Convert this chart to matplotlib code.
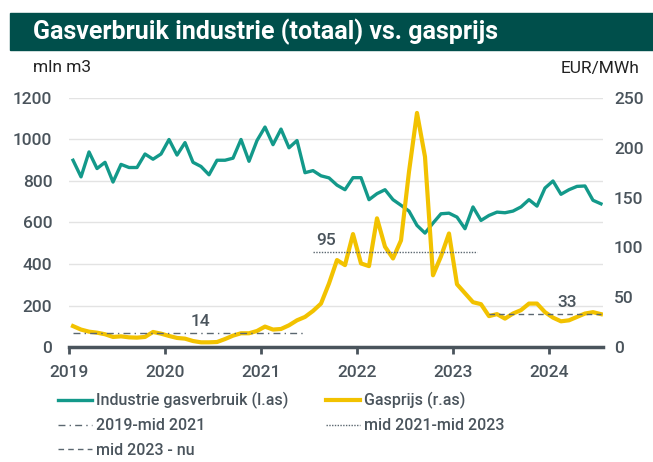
import matplotlib.pyplot as plt
import matplotlib.patches as patches

plt.rcParams['font.family'] = ['Roboto', 'DejaVu Sans']

# monthly data, Jan 2019 - Jul 2024
start_year = 2019
verbruik = [900, 820, 940, 860, 890, 795, 880, 865, 865, 930, 905, 930,
            1000, 925, 985, 890, 870, 830, 900, 900, 910, 1000, 895, 995,
            1060, 975, 1050, 960, 995, 840, 850, 825, 815, 780, 758, 816,
            816, 710, 739, 758, 710, 683, 655, 586, 549, 597, 642, 645,
            626, 570, 675, 610, 634, 650, 647, 655, 675, 710, 679, 766,
            800, 736, 758, 774, 776, 707, 690]
gasprijs = [21, 17.5, 15.4, 14.4, 12.8, 10.1, 10.7, 9.7, 9.4, 10.1, 15.1, 13.4,
            11.1, 9.1, 8.4, 6, 4.7, 4.7, 5, 8, 11.4, 13.8, 13.8, 16.1,
            20.5, 17.5, 18.1, 21.8, 26.8, 30.2, 36.2, 43.6, 63.8, 87.3, 82.2, 113.4,
            83.9, 81.2, 129.2, 100.7, 88.9, 107, 176, 235, 191, 72, 91, 114,
            63, 54, 45, 43, 31, 33, 28.5, 33.6, 37, 43.6, 43.6, 35,
            29.5, 25.8, 26.8, 30.2, 33.6, 35, 33]

# period averages (value, first month index, last month index)
gem_labels = ['2019-mid 2021', 'mid 2021-mid 2023', 'mid 2023 - nu']
gem_values = [14, 95, 33]
gem_start = [0, 30, 52]
gem_end = [29, 50.5, 66]

months = [start_year + (i + 0.5) / 12 for i in range(len(verbruik))]

green = '#13998a'
yellow = '#f2c200'
grey = '#5b6770'
dark = '#004f4b'
txt = '#4a545c'

fig = plt.figure(figsize=(6.53, 4.62), dpi=100)
ax = fig.add_axes([0.1057, 0.2489, 0.8177, 0.539])
ax2 = ax.twinx()

# title band
fig.patches.append(patches.Rectangle((10 / 653, 1 - 50 / 462), 1, 37 / 462,
                                     transform=fig.transFigure, color=dark, zorder=0))
fig.text(33 / 653, 1 - 32 / 462, 'Gasverbruik industrie (totaal) vs. gasprijs',
         color='white', fontsize=18, fontweight='bold', va='center')
fig.text(33 / 653, 1 - 68 / 462, 'mln m3', fontsize=12.5, color='#222222', va='center')
fig.text(640 / 653, 1 - 68 / 462, 'EUR/MWh', fontsize=12.5, color='#222222', va='center', ha='right')

l1, = ax.plot(months, verbruik, color=green, lw=2.4, label='Industrie gasverbruik (l.as)')
l2, = ax2.plot(months, gasprijs, color=yellow, lw=3, label='Gasprijs (r.as)')

styles = [(0, (5, 3, 1, 3)), (0, (1, 1)), (0, (4, 3))]
handles = []
for v, s, e, lab, st in zip(gem_values, gem_start, gem_end, gem_labels, styles):
    xs = [start_year + (s + 0.5) / 12, start_year + (e + 0.5) / 12]
    h, = ax2.plot(xs, [v, v], color=grey, lw=1, linestyle=st, label=lab)
    handles.append(h)
    ax2.text(xs[0] + (xs[1] - xs[0]) * (0.55 if v == 14 else 0.08 if v == 95 else 0.7), v + 7,
             str(v), color=txt, fontsize=12.5, fontweight='medium', ha='center')

ax.set_xlim(2019, 2024.5625)
ax.set_ylim(0, 1200)
ax2.set_ylim(0, 250)
ax.set_yticks(range(0, 1201, 200))
ax2.set_yticks(range(0, 251, 50))
ax.set_xticks(range(2019, 2025))

ax.grid(axis='y', color='#e3e3e3', lw=1)
ax.set_axisbelow(True)
for a in (ax, ax2):
    for sp in a.spines.values():
        sp.set_visible(False)
ax.spines['bottom'].set_visible(True)
ax.spines['bottom'].set_color(txt)
ax.spines['bottom'].set_linewidth(2.5)
ax.tick_params(axis='x', length=5, width=2, color=txt, pad=8,
               labelsize=12.5, labelcolor=txt)
ax.tick_params(axis='y', length=0, pad=12, labelsize=12.5, labelcolor=txt)
ax2.tick_params(axis='y', length=0, pad=8, labelsize=12.5, labelcolor=txt)
for lab in ax.get_xticklabels() + ax.get_yticklabels() + ax2.get_yticklabels():
    lab.set_fontweight('medium')

fig.legend([l1, handles[0], handles[2], l2, handles[1]],
           ['Industrie gasverbruik (l.as)', gem_labels[0], gem_labels[2],
            'Gasprijs (r.as)', gem_labels[1]],
           ncol=2, loc='upper left', bbox_to_anchor=(50 / 653, 1 - 384 / 462),
           frameon=False, prop={'size': 11.5, 'weight': 'medium'},
           handlelength=2.1, handletextpad=0.25,
           columnspacing=2.4, labelspacing=0.58, borderpad=0,
           labelcolor=txt)

fig.savefig('out.png', dpi=100)
